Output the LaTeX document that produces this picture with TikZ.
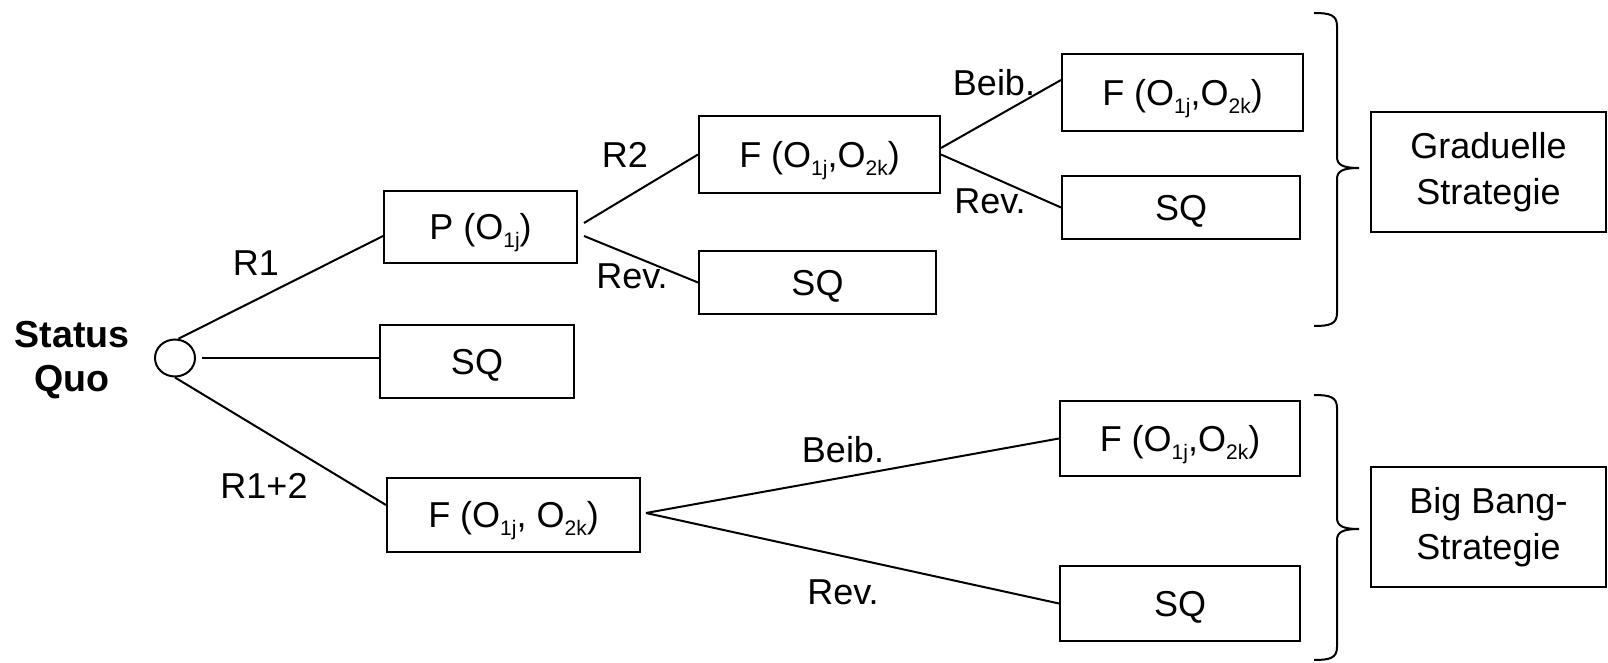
\documentclass[tikz,border=0pt]{standalone}
\usepackage{fontspec}
\setmainfont{Liberation Sans}
\usetikzlibrary{shapes.geometric,calc}
\newcommand\lo[1]{\raisebox{-4pt}{\fontsize{10.5}{10.5}\selectfont #1}}
\begin{document}
\begin{tikzpicture}[x=0.5pt,y=-0.5pt,
  box/.style={draw, line width=1pt, inner sep=0pt, text height=12.9pt, text depth=0pt, font=\fontsize{18}{22.5}\selectfont},
  bigbox/.style={draw, line width=1pt, inner sep=0pt, align=center, font=\fontsize{18}{23}\selectfont, minimum width=117.5pt, minimum height=60pt},
  lbl/.style={inner sep=0pt, font=\fontsize{18}{22.5}\selectfont},
  ln/.style={line width=1pt},
  brace/.style={line width=1pt}]
\useasboundingbox (0,0) rectangle (1608,663);

% root
\node[lbl, font=\fontsize{18.8}{22.2}\selectfont\bfseries, align=center] (sq) at (72,360) {Status\\Quo};
\node[draw, ellipse, line width=1pt, inner sep=0pt, minimum width=20pt, minimum height=18.5pt] (c) at (175,358) {};

% boxes
\node[box, minimum width=96.5pt, minimum height=36pt] (P) at (480.5,227) {P (O\lo{1j})};
\node[box, minimum width=97pt, minimum height=36.5pt] (SQm) at (477,361.5) {SQ};
\node[box, minimum width=126.5pt, minimum height=37pt] (Fl) at (513.5,515) {F (O\lo{1j}, O\lo{2k})};
\node[box, minimum width=120.5pt, minimum height=38.5pt] (Fm) at (819.5,154.5) {F (O\lo{1j},O\lo{2k})};
\node[box, minimum width=118.5pt, minimum height=31.5pt] (Sm) at (817.5,282.5) {SQ};
\node[box, minimum width=120.5pt, minimum height=38.5pt] (Fu) at (1182.5,92.5) {F (O\lo{1j},O\lo{2k})};
\node[box, minimum width=119pt, minimum height=31.5pt] (Su) at (1181,207.5) {SQ};
\node[box, minimum width=120pt, minimum height=37.5pt] (Fr) at (1180,438.5) {F (O\lo{1j},O\lo{2k})};
\node[box, minimum width=120pt, minimum height=37.5pt] (Sr) at (1180,603.5) {SQ};
\node[bigbox] (G) at (1488.5,172) {Graduelle\\Strategie};
\node[bigbox] (B) at (1488.5,527) {Big Bang-\\Strategie};

% connectors
\draw[ln] (c.80) -- ($(P.west)+(0,9)$);
\draw[ln] ($(c.east)+(6,0)$) -- (c.east -| SQm.west);
\draw[ln] (c.south) -- ($(Fl.west)+(0,-10)$);
\draw[ln] ($(P.east)+(6,-4)$) -- (Fm.west);
\draw[ln] ($(P.east)+(6,9)$) -- (Sm.west);
\draw[ln] ($(Fm.east)+(0,-6.5)$) -- ($(Fu.west)+(0,-12.5)$);
\draw[ln] (Fm.east) -- (Su.west);
\coordinate (lo) at ($(Fl.east)+(5,-2)$);
\draw[ln] (lo) -- (Fr.west);
\draw[ln] (lo) -- (Sr.west);

% labels
\node[lbl] (lR1) at (256,263) {R1};
\node[lbl] (lR12) at (264,486) {R1+2};
\node[lbl] (lR2) at (625,155) {R2};
\node[lbl] (lRev1) at (632,276) {Rev.};
\node[lbl] (lBeib1) at (994,83) {Beib.};
\node[lbl] (lRev2) at (990,201) {Rev.};
\node[lbl] (lBeib2) at (843,450) {Beib.};
\node[lbl] (lRev3) at (843,592) {Rev.};

% braces
\draw[brace] (1314,13) .. controls (1330,13) and (1337,15) .. (1337,26) -- (1337,157)
  .. controls (1337,165) and (1343,168) .. (1359,168)
  .. controls (1343,168) and (1337,171) .. (1337,179) -- (1337,313)
  .. controls (1337,324) and (1330,326) .. (1314,326);
\draw[brace] (1314,395) .. controls (1330,395) and (1337,397) .. (1337,408) -- (1337,518)
  .. controls (1337,526) and (1343,529) .. (1359,529)
  .. controls (1343,529) and (1337,532) .. (1337,540) -- (1337,647)
  .. controls (1337,658) and (1330,660) .. (1314,660);
\end{tikzpicture}
\end{document}
